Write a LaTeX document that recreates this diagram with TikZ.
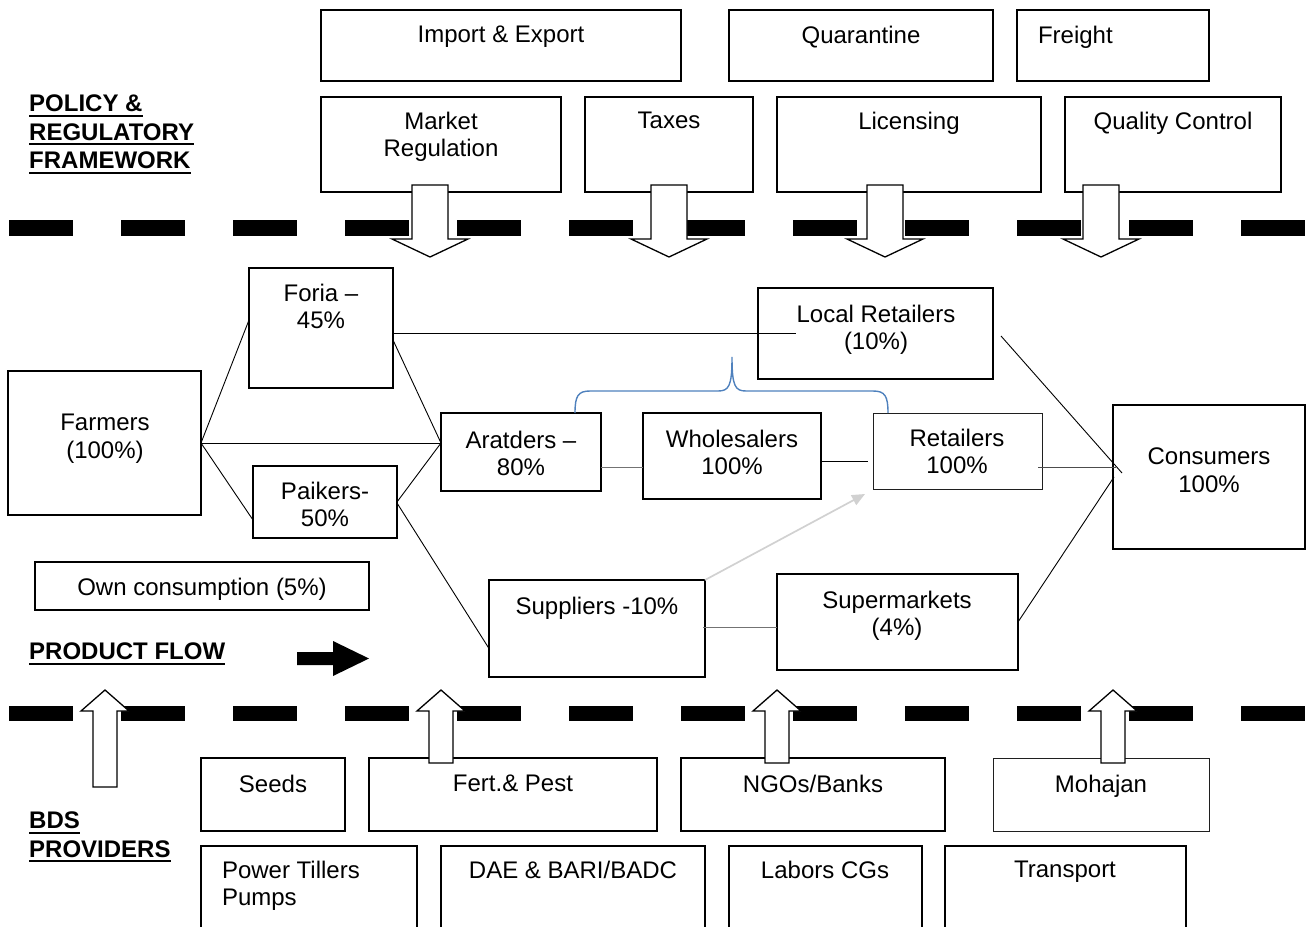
\documentclass[tikz,border=0pt]{standalone}
\usepackage{fontspec}
\setmainfont{Liberation Sans}
\usetikzlibrary{calc,arrows.meta}
\definecolor{bracecol}{HTML}{4F81BD}
% underline a word with a heavy rule a little below the baseline
\newcommand{\ulbox}[1]{\setbox0\hbox{#1}\rlap{\rule[-5pt]{\wd0}{2pt}}\box0}
\begin{document}
\begin{tikzpicture}[x=1pt,y=-1pt,
  box/.style={draw=black, line width=1.2pt, inner sep=0pt, outer sep=0pt, anchor=north west},
  thinbox/.style={box, line width=1pt, draw=black!88},
  thickbox/.style={box, line width=2pt},
  txt/.style={inner sep=0pt, outer sep=0pt, anchor=north, align=center, font=\fontsize{24}{27.5}\selectfont},
  lbl/.style={inner sep=0pt, anchor=north west, align=left, font=\fontsize{24}{28.5}\selectfont\bfseries},
  link/.style={line width=0.9pt, draw=black},
  graylink/.style={line width=1pt, draw=black!55},
  sepline/.style={line width=15.5pt, dash pattern=on 64pt off 48pt},
  block/.style={draw=black, fill=white, line width=1.3pt, line join=miter},
]
\useasboundingbox (0,0) rectangle (1314,926);
\clip (0,0) rectangle (1314,926);

% ---- policy and regulatory boxes
\node[box, minimum width=360pt, minimum height=71pt] (imp) at (321,10) {};
\node[box, minimum width=264pt, minimum height=71pt] (quar) at (729,10) {};
\node[box, minimum width=192pt, minimum height=71pt] (freight) at (1017,10) {};
\node[box, minimum width=240pt, minimum height=95pt] (market) at (321,97) {};
\node[box, minimum width=168pt, minimum height=95pt] (taxes) at (585,97) {};
\node[box, minimum width=264pt, minimum height=95pt] (lic) at (777,97) {};
\node[box, minimum width=216pt, minimum height=95pt] (qc) at (1065,97) {};

% ---- product flow boxes
\node[box, minimum width=193pt, minimum height=144pt] (farmers) at (8,371) {};
\node[box, minimum width=144pt, minimum height=120pt] (foria) at (249,268) {};
\node[box, minimum width=144pt, minimum height=72pt] (paikers) at (253,466) {};
\node[box, minimum width=334pt, minimum height=48pt] (own) at (35,562) {};
\node[box, minimum width=160pt, minimum height=78pt] (aratders) at (441,413) {};
\node[box, minimum width=178pt, minimum height=86pt] (wholesalers) at (643,413) {};
\node[thinbox, minimum width=169pt, minimum height=76pt] (retailers) at (873,413) {};
\node[thickbox, minimum width=235pt, minimum height=91pt] (localret) at (758,288) {};
\node[box, minimum width=216pt, minimum height=97pt] (suppliers) at (489,580) {};
\node[box, minimum width=241pt, minimum height=96pt] (supermarkets) at (777,574) {};
\node[box, minimum width=192pt, minimum height=144pt] (consumers) at (1113,405) {};

% ---- BDS provider boxes
\node[box, minimum width=144pt, minimum height=73pt] (seeds) at (201,758) {};
\node[box, minimum width=288pt, minimum height=73pt] (fert) at (369,758) {};
\node[box, minimum width=264pt, minimum height=73pt] (ngos) at (681,758) {};
\node[thinbox, minimum width=216pt, minimum height=73pt] (mohajan) at (993,758) {};
\node[box, minimum width=216pt, minimum height=110pt] (power) at (201,846) {};
\node[box, minimum width=264pt, minimum height=110pt] (dae) at (441,846) {};
\node[box, minimum width=193pt, minimum height=110pt] (labors) at (729,846) {};
\node[box, minimum width=241pt, minimum height=110pt] (transport) at (945,846) {};

% ---- connectors
\draw[link] (farmers.east) -- ($(foria.west)+(0,-8)$);
\draw[link] (farmers.east) -- ($(aratders.west)+(0,-9)$);
\draw[link] (farmers.east) -- ($(paikers.west)+(0,18)$);
\draw[link] ($(foria.east)+(0,12)$) -- ($(aratders.west)+(0,-9)$);
\draw[link] (paikers.east) -- ($(aratders.west)+(0,-9)$);
\draw[link] ($(paikers.east)+(0,1)$) -- ($(suppliers.west)+(0,20)$);
\draw[link] ($(foria.east)+(0,5)$) -- ($(localret.west)+(38,-0.5)$);
\draw[graylink] ($(aratders.east)+(0,15)$) -- ($(wholesalers.west)+(0,11)$);
\draw[link] ($(wholesalers.east)+(0,5)$) -- ($(retailers.west)+(-5,10)$);
\draw[link, draw=black!70] ($(retailers.east)+(-4,16)$) -- ($(consumers.west)+(3,-10)$);
\draw[link] ($(localret.east)+(8,2.5)$) -- ($(consumers.west)+(9,-4)$);
\draw[link] (supermarkets.east) -- ($(consumers.west)+(1,0)$);
\draw[graylink] ($(suppliers.east)+(-2,-1.5)$) -- ($(supermarkets.west)+(0,5)$);
\draw[line width=1.7pt, draw=black!18, fill=black!18, -{Triangle[length=13pt,width=11pt]}]
  (suppliers.north east) -- ($(retailers.south west)+(-8,5)$);

% ---- brace over the traders chain
\draw[bracecol, line width=1.4pt]
  (575,413) .. controls (575,396) and (578,391) .. (590,391) -- (718,391)
  .. controls (729,391) and (732,386) .. (732,357)
  .. controls (732,386) and (735,391) .. (746,391) -- (873,391)
  .. controls (885,391) and (888,396) .. (888,413);

% ---- section separators
\draw[sepline] (9,228) -- (1305,228);
\draw[sepline] (9,713.5) -- (1305,713.5);

% ---- block arrows: policy acting downwards, services acting upwards
\foreach \cx in {430,669,885,1101}
  \draw[block] (\cx-18,185) -- (\cx+18,185) -- (\cx+18,239) -- (\cx+38,239)
    -- (\cx,257) -- (\cx-38,239) -- (\cx-18,239) -- cycle;
\foreach \cx/\bot in {105/787,441/763,777/763,1113/763}
  \draw[block] (\cx-12,\bot) -- (\cx+12,\bot) -- (\cx+12,711) -- (\cx+24,711)
    -- (\cx,690) -- (\cx-24,711) -- (\cx-12,711) -- cycle;

% product flow direction arrow
\fill[black] (297,652) -- (333,652) -- (333,641) -- (369,658.5) -- (333,676)
  -- (333,665) -- (297,665) -- cycle;

% ---- texts
\node[txt] (imp-t) at (501,26) {Import \& Export};
\node[txt] (quar-t) at (861,26) {Quarantine};
\node[txt, anchor=north west] (freight-t) at (1038,26) {Freight};
\node[txt] (market-t) at (441,112) {Market\\Regulation};
\node[txt] (taxes-t) at (669,112) {Taxes};
\node[txt] (lic-t) at (909,112) {Licensing};
\node[txt] (qc-t) at (1173,112) {Quality Control};

\node[txt] (farmers-t) at (105,414) {Farmers\\(100\%)};
\node[txt] (foria-t) at (321,284) {Foria –\\45\%};
\node[txt] (paikers-t) at (325,482) {Paikers-\\50\%};
\node[txt] (own-t) at (202,578) {Own consumption (5\%)};
\node[txt] (aratders-t) at (521,431) {Aratders –\\80\%};
\node[txt] (wholesalers-t) at (732,430) {Wholesalers\\100\%};
\node[txt] (retailers-t) at (957,429) {Retailers\\100\%};
\node[txt] (localret-t) at (876,305) {Local Retailers\\(10\%)};
\node[txt] (suppliers-t) at (597,597) {Suppliers -10\%};
\node[txt] (supermarkets-t) at (897,591) {Supermarkets\\(4\%)};
\node[txt] (consumers-t) at (1209,448) {Consumers\\100\%};

\node[txt] (seeds-t) at (273,775) {Seeds};
\node[txt] (fert-t) at (513,775) {Fert.\& Pest};
\node[txt] (ngos-t) at (813,775) {NGOs/Banks};
\node[txt] (mohajan-t) at (1101,775) {Mohajan};
\node[txt, anchor=north west, align=left] (power-t) at (222,861) {Power Tillers\\Pumps};
\node[txt] (dae-t) at (573,861) {DAE \& BARI/BADC};
\node[txt] (labors-t) at (825,861) {Labors CGs};
\node[txt] (transport-t) at (1065,861) {Transport};

\node[lbl] (policy) at (29,95) {\ulbox{POLICY \&}\\\ulbox{REGULATORY}\\\ulbox{FRAMEWORK}};
\node[lbl] (flow) at (29,643) {\ulbox{PRODUCT FLOW}};
\node[lbl] (bds) at (29,812) {\ulbox{BDS}\\\ulbox{PROVIDERS}};
\end{tikzpicture}
\end{document}
